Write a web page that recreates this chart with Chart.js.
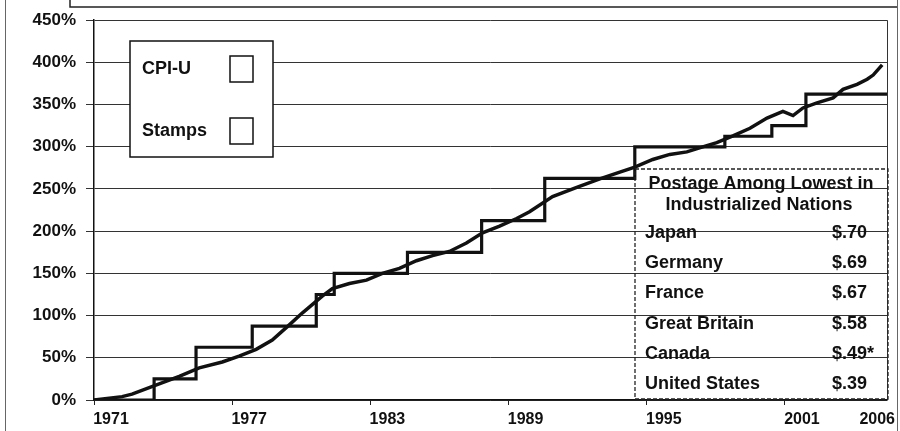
<!DOCTYPE html>
<html><head><meta charset="utf-8">
<script src="https://cdn.jsdelivr.net/npm/chart.js@4.4.0/dist/chart.umd.min.js"></script>
<style>html,body{margin:0;padding:0;background:#fff;}#wrap{width:900px;height:431px;position:relative;}canvas{display:block;}</style>
</head><body><div id="wrap"><canvas id="c" width="900" height="431"></canvas></div>
<script>
// ---- data ----
const cpiYears = [1971.00, 1972.22, 1972.65, 1973.83, 1974.70, 1975.57, 1976.57, 1977.30, 1978.04, 1978.74,
  1979.48, 1980.04, 1980.22, 1980.91, 1981.35, 1982.09, 1982.83, 1983.52, 1984.26, 1985.00,
  1985.70, 1986.43, 1987.17, 1987.87, 1988.61, 1989.35, 1989.91, 1990.91, 1991.96, 1992.96,
  1993.83, 1994.48, 1995.26, 1996.00, 1996.74, 1997.43, 1998.04, 1998.74, 1999.48, 2000.22,
  2000.91, 2001.35, 2001.78, 2002.39, 2003.09, 2003.52, 2004.13, 2004.57, 2004.83, 2005.22];
const cpiPct = [0, 4, 7, 19, 28, 38, 45, 52, 60, 71,
  89, 103, 107, 123, 132, 138, 142, 150, 156, 165,
  171, 176, 186, 198, 206, 215, 223, 241, 252, 262,
  270, 276, 285, 291, 294, 300, 305, 313, 322, 334,
  342, 337, 346, 352, 358, 368, 374, 380, 385, 397];
const stampYears = [1971, 1973.61, 1975.43, 1977.87, 1980.65, 1981.43, 1984.61, 1987.83, 1990.57, 1994.48, 1998.39, 2000.43, 2001.91, 2005.43];
const stampPct = [0, 25, 62.5, 87.5, 125, 150, 175, 212.5, 262.5, 300, 312.5, 325, 362.5, 362.5];
const xMin = 1971, xMax = 2005.43;
const tickYears = [1971, 1977, 1983, 1989, 1995, 2001, 2006];
const tickLabels = ['1971', '1977', '1983', '1989', '1995', '2001', '2006'];
const yTicks = [0, 50, 100, 150, 200, 250, 300, 350, 400, 450];
const legendLabels = ['CPI-U', 'Stamps'];
const tableTitle = ['Postage Among Lowest in', 'Industrialized Nations'];
const countries = ['Japan', 'Germany', 'France', 'Great Britain', 'Canada', 'United States'];
const postage = ['$.70', '$.69', '$.67', '$.58', '$.49*', '$.39'];

const FONT = "'Liberation Sans', Arial, sans-serif";
const INK = '#111';

const decor = {
  id: 'decor',
  afterDraw(chart) {
    const ctx = chart.ctx, ca = chart.chartArea, xs = chart.scales.x;
    ctx.save();
    // plot right border
    ctx.strokeStyle = '#333'; ctx.lineWidth = 1;
    ctx.beginPath(); ctx.moveTo(ca.right + 0.5, ca.top); ctx.lineTo(ca.right + 0.5, ca.bottom); ctx.stroke();
    // page frame + cut-off title box
    ctx.strokeStyle = '#666'; ctx.lineWidth = 1;
    ctx.beginPath();
    ctx.moveTo(5.5, 0); ctx.lineTo(5.5, 431);
    ctx.moveTo(897.5, 0); ctx.lineTo(897.5, 431);
    ctx.stroke();
    ctx.strokeStyle = '#222'; ctx.lineWidth = 1.5;
    ctx.beginPath(); ctx.moveTo(70, 0); ctx.lineTo(70, 7); ctx.lineTo(897, 7); ctx.stroke();

    // legend box
    ctx.fillStyle = '#fff';
    ctx.fillRect(130, 41, 143, 116);
    ctx.strokeStyle = INK; ctx.lineWidth = 1.5;
    ctx.strokeRect(130, 41, 143, 116);
    ctx.fillStyle = INK; ctx.font = 'bold 18px ' + FONT;
    ctx.textAlign = 'left'; ctx.textBaseline = 'middle';
    const legY = [69, 131];
    legendLabels.forEach((t, i) => {
      ctx.fillText(t, 142, legY[i]);
      ctx.strokeRect(230, legY[i] - 13, 23, 26);
    });

    // table box
    ctx.setLineDash([4, 2]); ctx.lineWidth = 1.3; ctx.strokeStyle = '#222';
    ctx.strokeRect(635, 169, 253, 230);
    ctx.setLineDash([]);
    ctx.fillStyle = INK; ctx.font = 'bold 18px ' + FONT;
    ctx.textAlign = 'center';
    ctx.fillText(tableTitle[0], 761, 184);
    ctx.fillText(tableTitle[1], 759, 205);
    ctx.textAlign = 'left';
    countries.forEach((c, i) => {
      const y = 233 + i * 30.2;
      ctx.fillText(c, 645, y);
      ctx.fillText(postage[i], 832, y);
    });

    // x tick labels
    ctx.font = 'bold 16px ' + FONT; ctx.textAlign = 'center'; ctx.textBaseline = 'middle';
    tickYears.forEach((yr, i) => {
      const w = ctx.measureText(tickLabels[i]).width;
      let px = xs.getPixelForValue(Math.min(yr, xs.max)) + 17;
      px = Math.min(px, 895 - w / 2);
      ctx.fillText(tickLabels[i], px, 420);
    });
    ctx.restore();
  }
};

new Chart(document.getElementById('c'), {
  type: 'line',
  data: {
    datasets: [
      { label: legendLabels[0], data: cpiYears.map((x, i) => ({ x, y: cpiPct[i] })),
        borderColor: INK, borderWidth: 3.5, pointRadius: 0, tension: 0, fill: false },
      { label: legendLabels[1], data: stampYears.map((x, i) => ({ x, y: stampPct[i] })),
        borderColor: INK, borderWidth: 3.2, pointRadius: 0, stepped: true, fill: false }
    ]
  },
  options: {
    responsive: false, animation: false, devicePixelRatio: 1,
    layout: { padding: { top: 16, right: 13, left: 0, bottom: 0 } },
    plugins: { legend: { display: false }, tooltip: { enabled: false }, title: { display: false } },
    scales: {
      x: {
        type: 'linear', min: xMin, max: xMax,
        afterBuildTicks: s => { s.ticks = tickYears.filter(v => v <= xMax).map(v => ({ value: v })); },
        ticks: { display: false },
        grid: { drawOnChartArea: false, color: '#222', tickColor: '#222', tickLength: 5 },
        border: { display: true, color: INK, width: 1.5 },
        afterFit: s => { s.height = 31; }
      },
      y: {
        min: 0, max: 450,
        afterBuildTicks: s => { s.ticks = yTicks.map(v => ({ value: v })); },
        ticks: { callback: v => v + '%', color: INK, font: { family: FONT, size: 17, weight: 'bold' }, padding: 10 },
        grid: { color: '#333', lineWidth: 1, tickColor: '#333', tickLength: 8 },
        border: { display: true, color: INK, width: 1.5 },
        afterFit: s => { s.width = 94; }
      }
    }
  },
  plugins: [decor]
});
</script>
</body></html>
